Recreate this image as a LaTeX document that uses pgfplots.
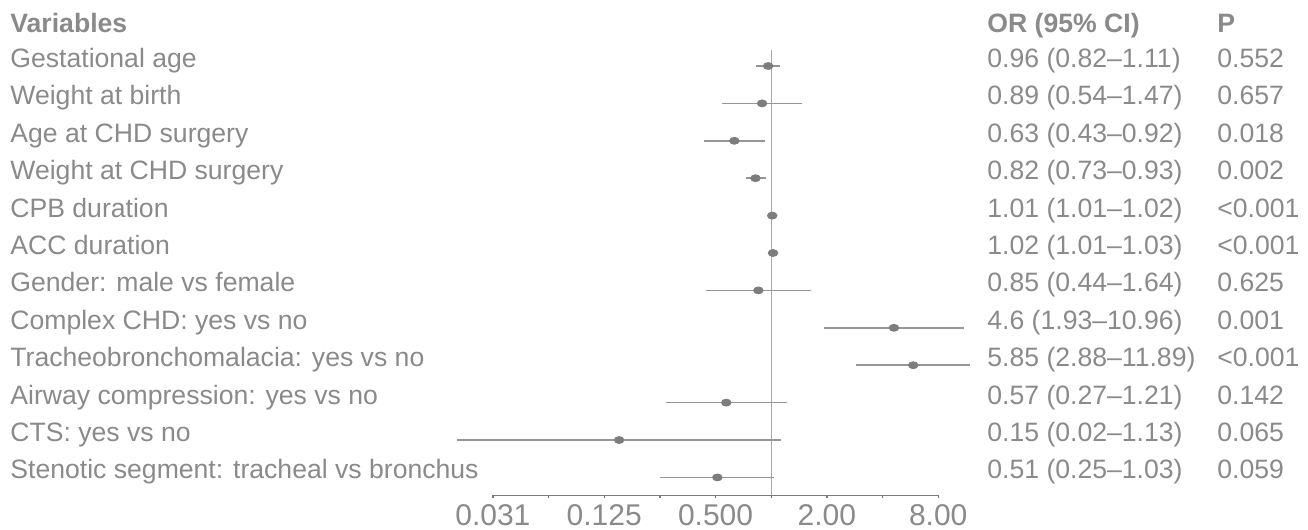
\documentclass[border=0pt]{standalone}
\usepackage{fontspec}
\setmainfont{Liberation Sans}
\usepackage{pgfplots}
\usepackage{pgfplotstable}
\pgfplotsset{compat=1.18}

\definecolor{txt}{RGB}{138,138,138}
\definecolor{cicol}{RGB}{150,150,150}
\definecolor{dotcol}{RGB}{125,125,125}
\definecolor{refcol}{RGB}{168,168,168}
\definecolor{axcol}{RGB}{120,120,120}
\newcommand\mainfs{\fontsize{13.3}{16}\selectfont}

% odds ratios with 95% CI, row 1 at the top
\pgfplotstableread{
row or   lo   hi
1   0.96 0.82 1.11
2   0.89 0.54 1.47
3   0.63 0.43 0.92
4   0.82 0.73 0.93
5   1.01 1.01 1.02
6   1.02 1.01 1.03
7   0.85 0.44 1.64
8   4.6  1.93 10.96
9   5.85 2.88 11.89
10  0.57 0.27 1.21
11  0.15 0.02 1.13
12  0.51 0.25 1.03
}\ortab

\begin{document}
\begin{tikzpicture}[x=1pt,y=1pt]
\path[use as bounding box] (0,0) rectangle (654,265);

\begin{axis}[
  at={(0pt,0pt)},anchor=south west,scale only axis,
  width=654pt,height=265pt,hide axis,clip=false,
  xmode=log,log basis x=2,xmin=6.716e-5,xmax=799,
  y dir=reverse,ymin=-0.7647,ymax=13.406]
\addplot[refcol,line width=0.8pt] coordinates {(1,0.572) (1,12.484)};
\addplot[only marks,mark=*,mark size=1.75pt,
  mark options={fill=dotcol,draw=dotcol,xscale=1.38},
  error bars/.cd,x dir=both,x explicit,error mark=none,
  error bar style={cicol,line width=0.8pt}]
  table[x=or,y=row,
    x error plus expr=\thisrow{hi}-\thisrow{or},
    x error minus expr=\thisrow{or}-\thisrow{lo}] {\ortab};
\end{axis}

\begin{axis}[
  at={(246.45pt,17.25pt)},anchor=south west,scale only axis,
  width=222.65pt,height=10pt,
  xmode=log,log basis x=2,xmin=0.03125,xmax=8,ymin=0,ymax=1,
  axis x line=bottom,hide y axis,
  x axis line style={-,axcol,line width=0.7pt},
  xtick={0.03125,0.0625,0.125,0.25,0.5,1,2,4,8},
  xticklabels={0.031,,0.125,,0.500,,2.00,,8.00},
  minor x tick num=0,
  tick align=outside,major tick length=1.5pt,
  tick style={axcol,line width=0.7pt},
  xticklabel style={font=\fontsize{15}{18}\selectfont,text=txt,
    inner sep=0pt,anchor=north,yshift=-3pt},
  /pgf/number format/assume math mode=true]
\addplot[draw=none] coordinates {(1,0)};
\end{axis}

\node[anchor=base west,inner sep=0,text=txt,font=\mainfs\bfseries] at (5,248.5) {Variables};
\node[anchor=base west,inner sep=0,text=txt,font=\mainfs\bfseries] at (493.5,248.5) {OR (95\% CI)};
\node[anchor=base west,inner sep=0,text=txt,font=\mainfs\bfseries] at (608.5,248.5) {P};

\foreach \n/\lab/\orci/\p in {
  1/Gestational age/0.96 (0.82--1.11)/0.552,
  2/Weight at birth/0.89 (0.54--1.47)/0.657,
  3/Age at CHD surgery/0.63 (0.43--0.92)/0.018,
  4/Weight at CHD surgery/0.82 (0.73--0.93)/0.002,
  5/CPB duration/1.01 (1.01--1.02)/<0.001,
  6/ACC duration/1.02 (1.01--1.03)/<0.001,
  7/Gender: male vs female/0.85 (0.44--1.64)/0.625,
  8/Complex CHD: yes vs no/4.6 (1.93--10.96)/0.001,
  9/Tracheobronchomalacia: yes vs no/5.85 (2.88--11.89)/<0.001,
  10/Airway compression: yes vs no/0.57 (0.27--1.21)/0.142,
  11/CTS: yes vs no/0.15 (0.02--1.13)/0.065,
  12/Stenotic segment: tracheal vs bronchus/0.51 (0.25--1.03)/0.059}{
  \pgfmathsetmacro\yb{(530-67.5-37.4*(\n-1))/2}
  \node[anchor=base west,inner sep=0,text=txt,font=\mainfs] at (5,\yb) {\lab};
  \node[anchor=base west,inner sep=0,text=txt,font=\mainfs] at (493.5,\yb) {\orci};
  \node[anchor=base west,inner sep=0,text=txt,font=\mainfs] at (608.5,\yb) {\p};
}
\end{tikzpicture}
\end{document}
